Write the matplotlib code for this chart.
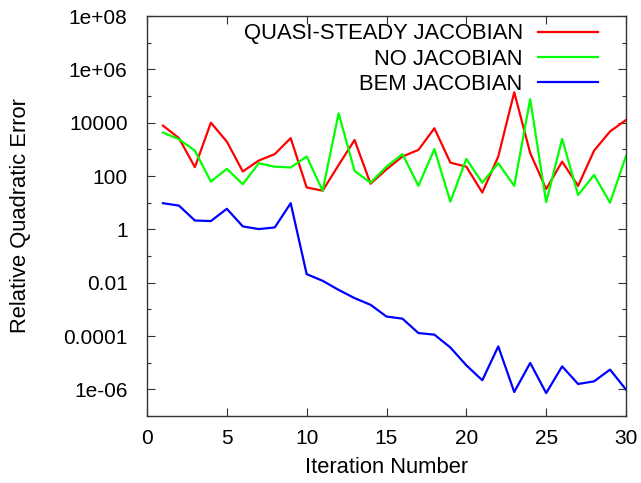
#!/usr/bin/env python3

import numpy as np
import matplotlib
matplotlib.use("Agg")
import matplotlib.pyplot as plt
from matplotlib.ticker import FixedLocator, FuncFormatter

# iteration numbers 1..30
iterations = list(range(1, 31))

# log10 of the relative quadratic error
quasi_steady_log = [3.89, 3.42, 2.33, 4.00, 3.29, 2.17, 2.58, 2.82, 3.42, 1.57,
                    1.45, 2.41, 3.35, 1.71, 2.25, 2.73, 2.98, 3.79, 2.50, 2.35,
                    1.38, 2.73, 5.14, 2.86, 1.51, 2.54, 1.63, 2.95, 3.67, 4.10]
no_jacobian_log = [3.63, 3.38, 2.95, 1.79, 2.27, 1.69, 2.48, 2.35, 2.32, 2.73,
                   1.45, 4.35, 2.19, 1.75, 2.35, 2.82, 1.63, 3.01, 1.04, 2.64,
                   1.75, 2.48, 1.63, 4.88, 1.02, 3.39, 1.29, 2.04, 1.00, 2.75]
bem_jacobian_log = [0.98, 0.89, 0.33, 0.31, 0.77, 0.11, 0.01, 0.07, 0.98, -1.68,
                    -1.93, -2.27, -2.58, -2.83, -3.27, -3.35, -3.89, -3.95, -4.43, -5.10,
                    -5.66, -4.39, -6.10, -5.01, -6.14, -5.14, -5.80, -5.70, -5.26, -6.01]

series = [
    ("QUASI-STEADY JACOBIAN", quasi_steady_log, "#ff0000"),
    ("NO JACOBIAN", no_jacobian_log, "#00ff00"),
    ("BEM JACOBIAN", bem_jacobian_log, "#0000ff"),
]

plt.rcParams["font.family"] = ["Liberation Sans", "DejaVu Sans"]
plt.rcParams["font.size"] = 15

fig = plt.figure(figsize=(6.41, 4.83), dpi=100)
ax = fig.add_axes([147 / 641, 1 - 416 / 483, 479 / 641, 400 / 483])

for name, vals, color in series:
    ax.plot(iterations, 10.0 ** np.array(vals), color=color, lw=1.6, label=name)

ax.set_yscale("log")
ax.set_xlim(0, 30)
ax.set_ylim(1e-7, 1e8)

# gnuplot-like ticks: labels every second decade, small ticks between
ax.yaxis.set_major_locator(FixedLocator([10.0 ** k for k in range(-6, 9, 2)]))
ax.yaxis.set_minor_locator(FixedLocator([10.0 ** k for k in range(-7, 9, 2)]))
ax.yaxis.set_major_formatter(FuncFormatter(lambda v, p: "%g" % v))
ax.yaxis.set_minor_formatter(FuncFormatter(lambda v, p: ""))
ax.set_xticks(range(0, 31, 5))

ax.tick_params(which="both", direction="in", top=True, right=True, width=0.8, color="#333333")
ax.tick_params(which="major", length=6)
ax.tick_params(which="minor", length=3)
ax.tick_params(axis="y", pad=14, labelsize=15)
ax.tick_params(axis="x", pad=9, labelsize=15)
for sp in ax.spines.values():
    sp.set_color("#333333")
    sp.set_linewidth(1.0)

ax.set_xlabel("Iteration Number", fontsize=15.8, labelpad=7)
ax.set_ylabel("Relative Quadratic Error", fontsize=15.8, labelpad=23)

leg = ax.legend(loc="upper right", bbox_to_anchor=(0.9415, 0.982), frameon=False,
                markerfirst=False, borderpad=0, borderaxespad=0, handlelength=2.75,
                handletextpad=0.68, labelspacing=0.2, fontsize=15.8)

fig.savefig("out.png", dpi=100)
